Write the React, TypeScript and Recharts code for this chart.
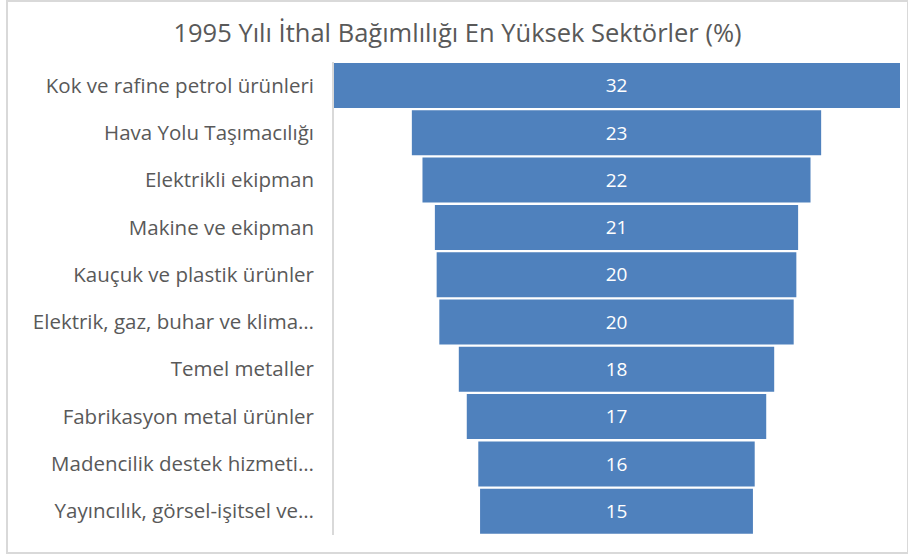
import { Bar, BarChart, LabelList, XAxis, YAxis } from "recharts";

const sectors = [
  "Kok ve rafine petrol ürünleri",
  "Hava Yolu Taşımacılığı",
  "Elektrikli ekipman",
  "Makine ve ekipman",
  "Kauçuk ve plastik ürünler",
  "Elektrik, gaz, buhar ve klima…",
  "Temel metaller",
  "Fabrikasyon metal ürünler",
  "Madencilik destek hizmeti…",
  "Yayıncılık, görsel-işitsel ve…",
];

const shares = [32.0, 23.1, 21.9, 20.5, 20.3, 20.0, 17.8, 16.9, 15.6, 15.4];

const maxShare = Math.max(...shares);

const data = sectors.map((name, i) => ({
  name,
  pad: (maxShare - shares[i]) / 2,
  value: shares[i],
}));

const font = "'Open Sans', sans-serif";

function SectorTick(props: any) {
  const { x, y, payload } = props;
  return (
    <text x={x - 11} y={y} dy={7} textAnchor="end" fontSize={20.5} fill="#595959" fontFamily={font}>
      {payload.value}
    </text>
  );
}

export default function App() {
  return (
    <div style={{ position: "absolute", left: 0, top: 0, width: 908, height: 556, background: "#fff" }}>
      <div
        style={{
          position: "absolute",
          left: 6,
          top: 0,
          width: 899,
          height: 550,
          border: "2px solid #d9d9d9",
        }}
      />
      <div
        style={{
          position: "absolute",
          left: 6,
          width: 903,
          top: 14,
          textAlign: "center",
          fontFamily: font,
          fontSize: 25.5,
          lineHeight: "36px",
          color: "#595959",
        }}
      >
        1995 Yılı İthal Bağımlılığı En Yüksek Sektörler (%)
      </div>
      <div style={{ position: "absolute", left: 0, top: 0 }}>
        <BarChart
          width={908}
          height={556}
          layout="vertical"
          data={data}
          margin={{ top: 62, right: 8, bottom: 21, left: 13 }}
          barSize={45}
        >
          <XAxis type="number" hide domain={[0, maxShare]} />
          <YAxis
            type="category"
            dataKey="name"
            width={320}
            tick={<SectorTick />}
            tickLine={false}
            axisLine={{ stroke: "#d9d9d9", strokeWidth: 2 }}
            interval={0}
          />
          <Bar dataKey="pad" stackId="a" fill="transparent" isAnimationActive={false} />
          <Bar dataKey="value" stackId="a" fill="#4f81bd" isAnimationActive={false}>
            <LabelList
              dataKey="value"
              position="center"
              formatter={(v: any) => Math.round(Number(v))}
              fill="#ffffff"
              fontSize={19}
              fontFamily={font}
            />
          </Bar>
        </BarChart>
      </div>
    </div>
  );
}
